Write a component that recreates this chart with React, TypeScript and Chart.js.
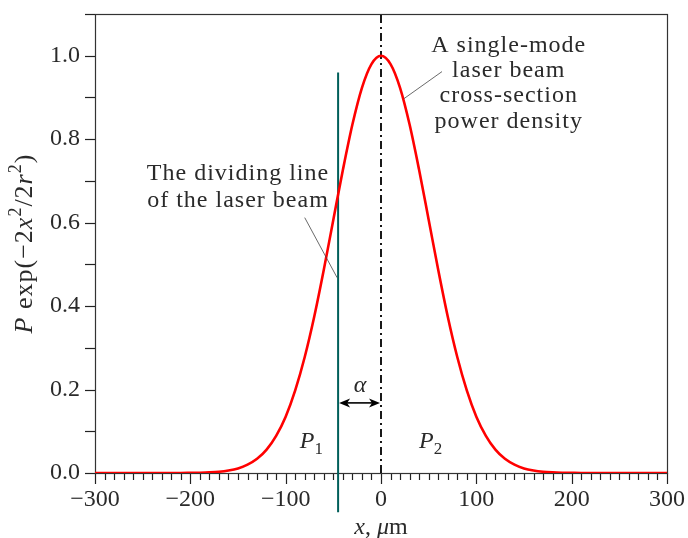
import React, { useEffect, useRef } from "react";
import { Chart, registerables } from "chart.js";

Chart.register(...registerables);

// x positions (µm)
const xValues = [
  -300, -290, -280, -270, -260, -250, -240, -230, -220, -210,
  -200, -190, -180, -170, -160, -150, -140, -130, -120, -110,
  -100, -90, -80, -70, -60, -50, -40, -30, -20, -10,
  0,
  10, 20, 30, 40, 50, 60, 70, 80, 90, 100,
  110, 120, 130, 140, 150, 160, 170, 180, 190, 200,
  210, 220, 230, 240, 250, 260, 270, 280, 290, 300,
];
// normalised power density
const powerValues = [
  0, 0, 0, 0, 0, 0, 0, 0, 0, 0,
  0.0003, 0.0007, 0.0015, 0.003, 0.006, 0.011, 0.02, 0.034, 0.056, 0.089,
  0.135, 0.198, 0.278, 0.375, 0.487, 0.607, 0.726, 0.835, 0.923, 0.98,
  1.0,
  0.98, 0.923, 0.835, 0.726, 0.607, 0.487, 0.375, 0.278, 0.198, 0.135,
  0.089, 0.056, 0.034, 0.02, 0.011, 0.006, 0.003, 0.0015, 0.0007, 0.0003,
  0, 0, 0, 0, 0, 0, 0, 0, 0, 0,
];
// dividing line of the beam
const dividingX = [-45, -45];
const dividingY = [-0.094, 0.96];
// beam axis
const axisX = [0, 0];
const axisY = [0, 1.1];

const xMajorTicks = [-300, -200, -100, 0, 100, 200, 300];
const yMajorTicks = [0, 0.2, 0.4, 0.6, 0.8, 1.0];

const noteBeam = ["A single-mode", "laser beam", "cross-section", "power density"];
const noteDivide = ["The dividing line", "of the laser beam"];

const SERIF = "'Liberation Serif', 'DejaVu Serif', serif";
const TEXT = "#2a2a2a";

type Seg = { t: string; f: string; dy?: number };

function drawSegs(ctx: CanvasRenderingContext2D, segs: Seg[], cx: number, y: number) {
  let total = 0;
  for (const s of segs) {
    ctx.font = s.f;
    total += ctx.measureText(s.t).width;
  }
  let x = cx - total / 2;
  ctx.textAlign = "left";
  ctx.textBaseline = "alphabetic";
  for (const s of segs) {
    ctx.font = s.f;
    ctx.fillText(s.t, x, y + (s.dy || 0));
    x += ctx.measureText(s.t).width;
  }
}

function arrowHead(ctx: CanvasRenderingContext2D, x: number, y: number, dir: number) {
  ctx.beginPath();
  ctx.moveTo(x, y);
  ctx.lineTo(x - dir * 11, y - 4.5);
  ctx.lineTo(x - dir * 8, y);
  ctx.lineTo(x - dir * 11, y + 4.5);
  ctx.closePath();
  ctx.fill();
}

const zeroPad = (s: any) => {
  s.paddingLeft = 0;
  s.paddingRight = 0;
  s.paddingTop = 0;
  s.paddingBottom = 0;
};

const framePlugin = {
  id: "frameTicks",
  beforeDatasetsDraw(chart: any) {
    const { ctx, chartArea: a, scales } = chart;
    const xs = scales.x;
    const ys = scales.y;
    ctx.save();
    ctx.strokeStyle = "#222";
    ctx.lineWidth = 1.2;
    for (let v = -300; v <= 300; v += 10) {
      const px = Math.round(xs.getPixelForValue(v)) + 0.5;
      const major = xMajorTicks.includes(v);
      ctx.beginPath();
      ctx.moveTo(px, a.bottom);
      ctx.lineTo(px, a.bottom + (major ? 11 : 7));
      ctx.stroke();
    }
    for (let i = 0; i <= 11; i++) {
      const py = Math.round(ys.getPixelForValue(i / 10)) + 0.5;
      ctx.beginPath();
      ctx.moveTo(a.left, py);
      ctx.lineTo(a.left - 10, py);
      ctx.stroke();
    }
    ctx.strokeStyle = "#333";
    ctx.strokeRect(Math.round(a.left) + 0.5, Math.round(a.top) + 0.5, Math.round(a.right - a.left), Math.round(a.bottom - a.top));
    ctx.restore();
  },
  afterDatasetsDraw(chart: any) {
    const { ctx, chartArea: a, scales } = chart;
    const xs = scales.x;
    const ys = scales.y;
    const X = (v: number) => xs.getPixelForValue(v);
    const Y = (v: number) => ys.getPixelForValue(v);
    ctx.save();
    ctx.fillStyle = TEXT;
    const roman = `24px ${SERIF}`;
    const ital = `italic 24px ${SERIF}`;
    const sub = `17px ${SERIF}`;

    (ctx as any).letterSpacing = "1px";
    ctx.textAlign = "center";
    ctx.textBaseline = "alphabetic";
    ctx.font = roman;
    const beamBase = [1.01, 0.949, 0.888, 0.827];
    noteBeam.forEach((t, i) => ctx.fillText(t, X(134), Y(beamBase[i])));
    const divBase = [0.702, 0.638];
    noteDivide.forEach((t, i) => ctx.fillText(t, X(-150), Y(divBase[i])));
    (ctx as any).letterSpacing = "0px";

    // leader lines
    ctx.strokeStyle = "#444";
    ctx.lineWidth = 0.8;
    ctx.beginPath();
    ctx.moveTo(X(64), Y(0.962));
    ctx.lineTo(X(24), Y(0.897));
    ctx.moveTo(X(-80), Y(0.612));
    ctx.lineTo(X(-46), Y(0.468));
    ctx.stroke();

    // alpha arrow
    ctx.strokeStyle = "#000";
    ctx.fillStyle = "#000";
    ctx.lineWidth = 1.6;
    const ay = Y(0.168);
    const x1 = X(-45) + 1;
    const x2 = X(0) - 1;
    ctx.beginPath();
    ctx.moveTo(x1 + 6, ay);
    ctx.lineTo(x2 - 6, ay);
    ctx.stroke();
    arrowHead(ctx, x1, ay, -1);
    arrowHead(ctx, x2, ay, 1);

    ctx.fillStyle = TEXT;
    ctx.font = ital;
    ctx.textAlign = "center";
    ctx.fillText("α", X(-22), Y(0.195));

    drawSegs(ctx, [{ t: "P", f: ital }, { t: "1", f: sub, dy: 6 }], X(-73), Y(0.06));
    drawSegs(ctx, [{ t: "P", f: ital }, { t: "2", f: sub, dy: 6 }], X(52), Y(0.06));

    // x title
    drawSegs(
      ctx,
      [
        { t: "x", f: ital },
        { t: ", ", f: roman },
        { t: "μ", f: ital },
        { t: "m", f: roman },
      ],
      (a.left + a.right) / 2,
      534
    );

    // y title
    ctx.save();
    ctx.translate(32, (a.top + a.bottom) / 2);
    ctx.rotate(-Math.PI / 2);
    (ctx as any).letterSpacing = "1px";
    const yr = `26px ${SERIF}`;
    const yi = `italic 26px ${SERIF}`;
    const supF = `18px ${SERIF}`;
    drawSegs(
      ctx,
      [
        { t: "P", f: yi },
        { t: " exp(−2", f: yr },
        { t: "x", f: yi },
        { t: "2", f: supF, dy: -11 },
        { t: "/2", f: yr },
        { t: "r", f: yi },
        { t: "2", f: supF, dy: -11 },
        { t: ")", f: yr },
      ],
      0,
      0
    );
    ctx.restore();
    ctx.restore();
  },
};

export default function App() {
  const ref = useRef<HTMLCanvasElement | null>(null);
  useEffect(() => {
    if (!ref.current) return;
    Chart.defaults.font.family = SERIF;
    const chart = new Chart(ref.current, {
      type: "line",
      data: {
        datasets: [
          {
            data: xValues.map((x, i) => ({ x, y: powerValues[i] })),
            borderColor: "#ff0000",
            borderWidth: 2.6,
            pointRadius: 0,
            cubicInterpolationMode: "monotone",
            fill: false,
          },
          {
            data: dividingX.map((x, i) => ({ x, y: dividingY[i] })),
            borderColor: "#005f5a",
            borderWidth: 2,
            pointRadius: 0,
            clip: false as any,
          },
          {
            data: axisX.map((x, i) => ({ x, y: axisY[i] })),
            borderColor: "#000",
            borderWidth: 1.8,
            borderDash: [8, 4, 2, 4],
            pointRadius: 0,
          },
        ],
      },
      options: {
        responsive: false,
        animation: false,
        layout: { padding: { left: 0, right: 21, top: 14, bottom: 0 } },
        plugins: { legend: { display: false }, tooltip: { enabled: false } },
        scales: {
          x: {
            type: "linear",
            min: -300,
            max: 300,
            grid: { display: false, drawTicks: false },
            border: { display: false },
            afterFit: (s: any) => {
              s.height = 65;
              zeroPad(s);
            },
            ticks: {
              stepSize: 100,
              autoSkip: false,
              maxRotation: 0,
              padding: 12,
              color: TEXT,
              font: { size: 24, family: SERIF },
              callback: (v: any) => {
                const n = Number(v);
                return n < 0 ? "−" + Math.abs(n) : String(n);
              },
            },
          },
          y: {
            type: "linear",
            min: 0,
            max: 1.1,
            grid: { display: false, drawTicks: false },
            border: { display: false },
            afterFit: (s: any) => {
              s.width = 95;
              zeroPad(s);
            },
            afterBuildTicks: (s: any) => {
              s.ticks = yMajorTicks.map((value) => ({ value }));
            },
            ticks: {
              autoSkip: false,
              padding: 15,
              color: TEXT,
              font: { size: 24, family: SERIF },
              callback: (v: any) => Number(v).toFixed(1),
            },
          },
        },
      },
      plugins: [framePlugin],
    });
    return () => chart.destroy();
  }, []);
  return (
    <div style={{ position: "fixed", left: 0, top: 0, width: 688, height: 538, background: "#fff" }}>
      <canvas ref={ref} width={688} height={538} style={{ display: "block" }} />
    </div>
  );
}
